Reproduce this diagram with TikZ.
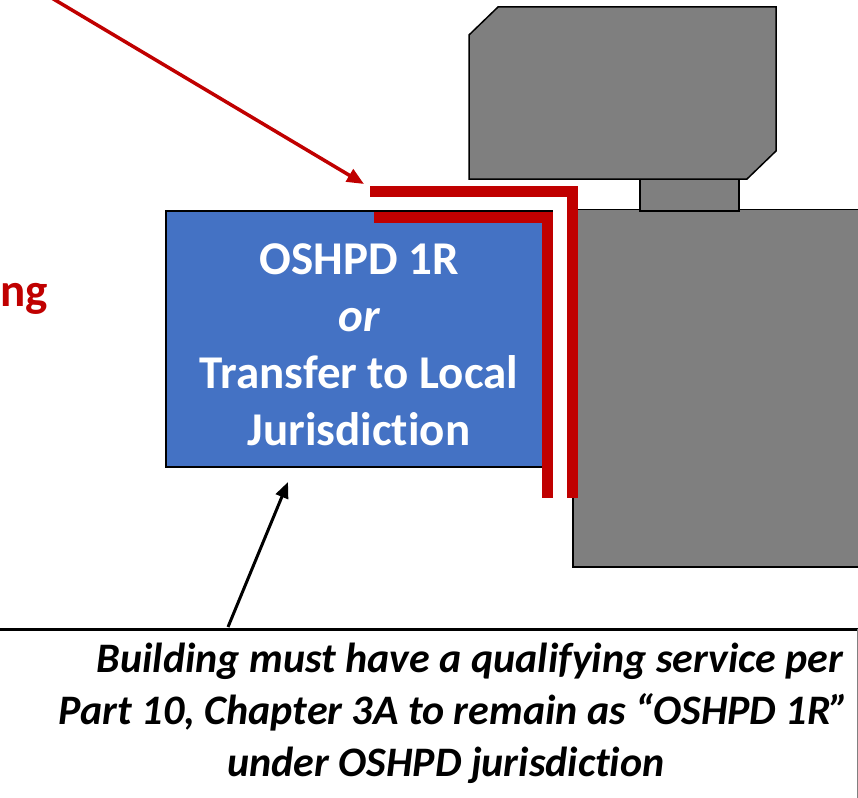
\documentclass[tikz,border=0pt]{standalone}
\usepackage{fontspec}
\setmainfont{Carlito}[Ligatures=NoCommon]
\usetikzlibrary{arrows.meta}
\definecolor{pgray}{HTML}{7F7F7F}
\definecolor{pblue}{HTML}{4472C4}
\definecolor{pred}{HTML}{C00000}
\begin{document}
\begin{tikzpicture}[x=1pt,y=-1pt,
  grayshape/.style={fill=pgray,draw=black,line width=1.5pt},
  redwire/.style={draw=pred,line width=11pt,line join=miter},
  bluetxt/.style={text=white,font=\fontsize{47}{57}\selectfont\bfseries,anchor=base,inner sep=0pt},
  notetxt/.style={text=black,font=\fontsize{42}{52}\selectfont\bfseries\itshape,anchor=base,inner sep=0pt},
  redtxt/.style={text=pred,font=\fontsize{47}{57}\selectfont\bfseries,anchor=base east,inner sep=0pt},
  redarrow/.style={draw=pred,line width=3.5pt,-{Triangle[length=17pt,width=14pt]}},
  blackarrow/.style={draw=black,line width=3pt,-{Triangle[length=16pt,width=13pt]}}]
\useasboundingbox (0,0) rectangle (858,797);
% building shapes
\draw[grayshape] (573,209.5) rectangle (875,567);
\draw[grayshape] (640,179) rectangle (739,211);
\draw[grayshape] (469,35) -- (498,7) -- (776,7) -- (776,151) -- (747,179) -- (469,179) -- cycle;
% blue box
\draw[fill=pblue,draw=black,line width=1.5pt] (166,211) rectangle (552,467);
\node[bluetxt] (l1) at (359,274) {OSHPD 1R};
\node[bluetxt] (l2) at (359,331) {\itshape or};
\node[bluetxt] (l3) at (359,388) {Transfer to Local};
\node[bluetxt] (l4) at (359,445) {Jurisdiction};
% red wires
\draw[redwire] (370,191.5) -- (572,191.5) -- (572,498);
\draw[redwire] (374,217.5) -- (547.5,217.5) -- (547.5,498);
% left partial text
\node[redtxt] (ng) at (48,306) {ng};
% note box
\draw[fill=white,draw=black,line width=3pt] (-10,629) -- (858,629);
\draw[draw=gray,line width=1pt] (857,629) -- (857,800);
\node[notetxt] (n1) at (470,672) {Building must have a qualifying service per};
\node[notetxt] (n2) at (454,724) {Part 10, Chapter 3A to remain as “OSHPD 1R”};
\node[notetxt] (n3) at (446,776) {under OSHPD jurisdiction};
% arrows
\coordinate (rstart) at (-7,-37);
\coordinate (rtip) at (364,184);
\draw[redarrow] (rstart) -- (rtip);
\coordinate (bstart) at (228,627);
\coordinate (btip) at (288,482);
\draw[blackarrow] (bstart) -- (btip);
\end{tikzpicture}
\end{document}
